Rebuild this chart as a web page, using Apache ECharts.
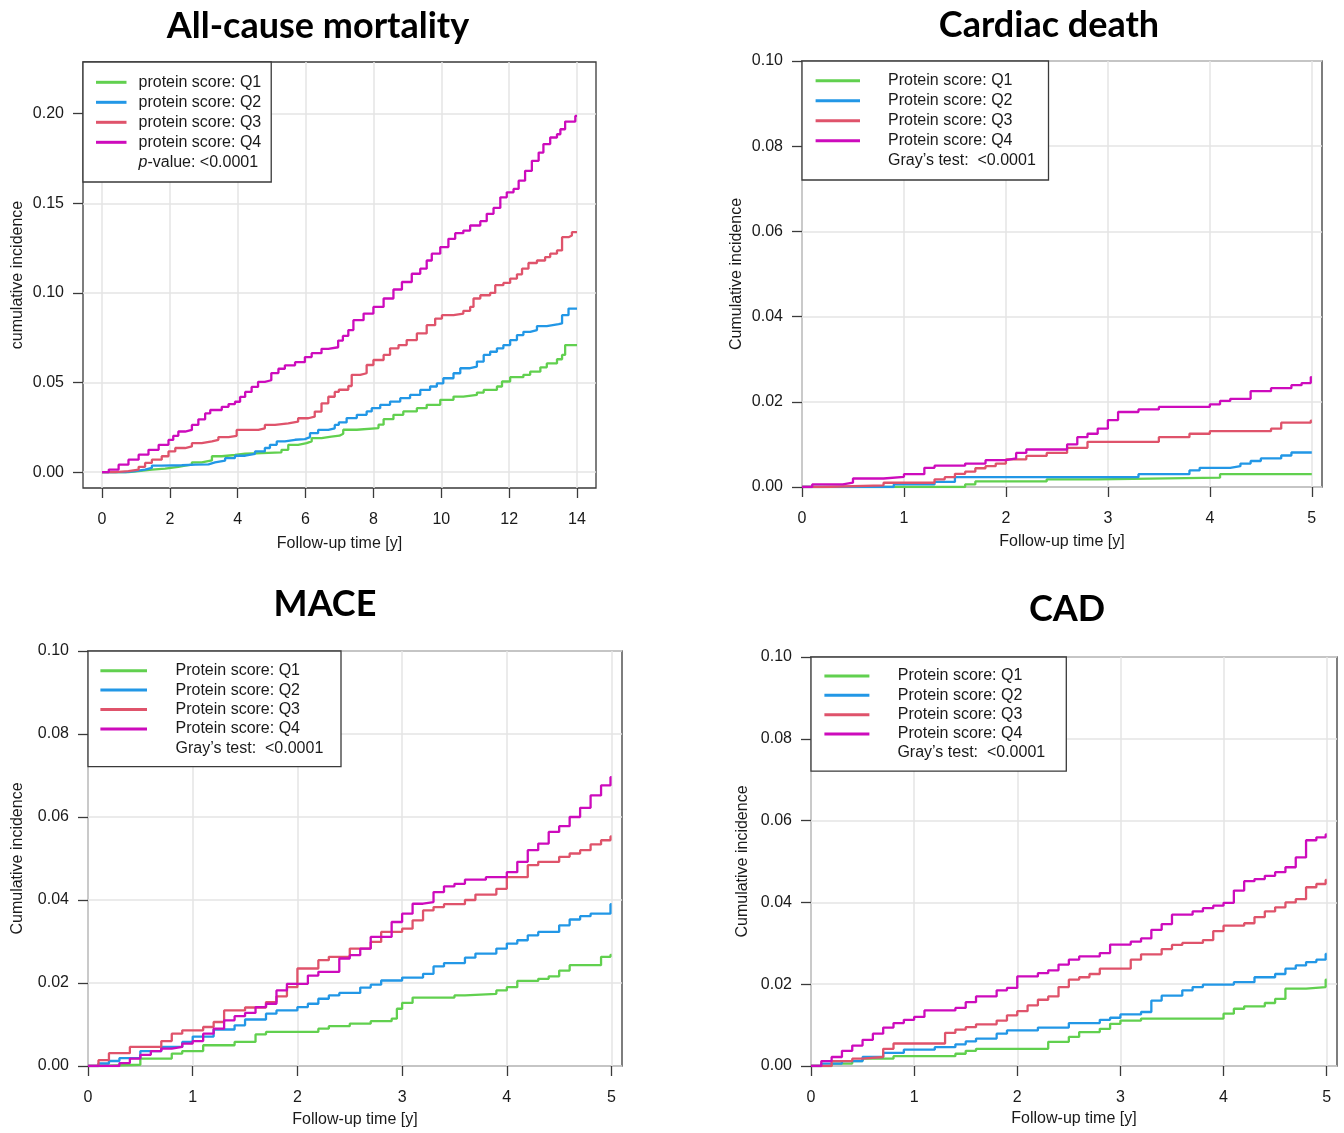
<!DOCTYPE html>
<html>
<head>
<meta charset="utf-8">
<title>Cumulative incidence by protein score</title>
<script src="https://cdn.jsdelivr.net/npm/echarts@6/dist/echarts.min.js"></script>
<style>
  html, body { margin: 0; padding: 0; background: #fff; }
  #chart { width: 1344px; height: 1133px; }
</style>
</head>
<body>
<div id="chart"></div>
<script>
// 数据：[随访时间(年), 累积发生率]
// All-cause mortality
const acmQ1 = [[0,0],[0.78,0.0006],[1.08,0.0015],[1.47,0.002],[1.86,0.003],[2.25,0.0037],[2.45,0.0042],[2.65,0.0055],[2.94,0.0066],[3.24,0.0089],[3.53,0.0096],[3.92,0.0103],[4.22,0.0107],[4.71,0.0111],[5.29,0.0125],[5.49,0.0153],[5.78,0.0162],[6.03,0.0172],[6.18,0.019],[6.47,0.0199],[6.76,0.0204],[7.0,0.0215],[7.11,0.0237],[7.51,0.0246],[8.15,0.0265],[8.3,0.0296],[8.59,0.032],[8.88,0.0339],[9.28,0.0357],[9.57,0.0376],[9.97,0.0404],[10.36,0.0422],[10.65,0.0431],[11.05,0.0444],[11.25,0.0459],[11.64,0.0478],[11.79,0.0506],[12.03,0.053],[12.42,0.0543],[12.62,0.0561],[12.92,0.0585],[13.11,0.0607],[13.41,0.063],[13.56,0.0654],[13.65,0.0709],[14,0.0709]];
const acmQ2 = [[0,0],[0.69,0.0006],[0.98,0.0015],[1.27,0.0024],[1.47,0.0037],[1.76,0.0039],[2.35,0.0042],[2.75,0.0044],[3.14,0.0055],[3.33,0.0065],[3.63,0.0079],[3.92,0.0092],[4.22,0.0103],[4.51,0.0116],[4.8,0.0135],[4.95,0.0153],[5.15,0.0172],[5.39,0.0181],[5.69,0.0185],[5.98,0.0196],[6.13,0.0218],[6.37,0.0236],[6.67,0.0245],[6.86,0.0264],[6.98,0.0278],[7.21,0.0302],[7.51,0.032],[7.8,0.0339],[7.95,0.0357],[8.2,0.0376],[8.49,0.0394],[8.79,0.0413],[9.08,0.0431],[9.38,0.0459],[9.67,0.0478],[9.87,0.0496],[10.06,0.0524],[10.36,0.0552],[10.56,0.058],[10.85,0.0589],[11.05,0.0617],[11.25,0.0654],[11.44,0.0672],[11.64,0.0691],[11.83,0.0709],[12.03,0.0737],[12.23,0.0765],[12.42,0.0783],[12.62,0.0793],[12.82,0.0815],[13.11,0.0826],[13.46,0.083],[13.56,0.0876],[13.75,0.0913],[14,0.0913]];
const acmQ3 = [[0,0],[0.39,0.0006],[0.78,0.0015],[1.08,0.003],[1.27,0.0052],[1.47,0.007],[1.76,0.0089],[1.96,0.0116],[2.16,0.0135],[2.45,0.0144],[2.65,0.0162],[2.94,0.0172],[3.24,0.0181],[3.43,0.0196],[3.73,0.0203],[3.97,0.0236],[4.61,0.0245],[4.8,0.0264],[5.1,0.0273],[5.49,0.0282],[5.78,0.0301],[6.08,0.031],[6.27,0.0338],[6.47,0.0384],[6.67,0.0421],[6.86,0.0448],[6.98,0.046],[7.26,0.0481],[7.36,0.0543],[7.61,0.0552],[7.8,0.0598],[8.0,0.0626],[8.3,0.0654],[8.49,0.0691],[8.74,0.0709],[8.98,0.0737],[9.28,0.0774],[9.57,0.082],[9.82,0.0857],[10.02,0.0876],[10.36,0.0885],[10.65,0.09],[10.85,0.0922],[10.95,0.0969],[11.15,0.0987],[11.44,0.1],[11.59,0.1043],[11.83,0.1056],[12.03,0.108],[12.23,0.1104],[12.38,0.1135],[12.57,0.1167],[12.82,0.1181],[13.06,0.12],[13.21,0.1219],[13.41,0.1237],[13.56,0.1311],[13.75,0.132],[13.85,0.1339],[14,0.1339]];
const acmQ4 = [[0,0],[0.2,0.0015],[0.49,0.0042],[0.78,0.007],[1.08,0.0098],[1.37,0.0125],[1.67,0.0153],[1.96,0.018],[2.1,0.0203],[2.25,0.0227],[2.45,0.0236],[2.65,0.0264],[2.84,0.0295],[3.04,0.0328],[3.19,0.0347],[3.53,0.0365],[3.73,0.038],[3.92,0.0393],[4.07,0.042],[4.22,0.0448],[4.41,0.0476],[4.6,0.0504],[4.8,0.0513],[4.99,0.0553],[5.2,0.0577],[5.39,0.0596],[5.69,0.0614],[5.98,0.0642],[6.18,0.0664],[6.47,0.0688],[6.67,0.0697],[6.96,0.0734],[7.1,0.076],[7.26,0.0793],[7.41,0.0848],[7.71,0.0885],[8.0,0.0922],[8.3,0.0969],[8.59,0.1019],[8.84,0.1061],[9.13,0.1107],[9.38,0.1135],[9.57,0.1181],[9.72,0.1219],[9.97,0.1256],[10.21,0.1302],[10.41,0.1333],[10.65,0.1348],[10.85,0.1376],[11.15,0.14],[11.34,0.1441],[11.54,0.1474],[11.74,0.1533],[11.93,0.1561],[12.13,0.158],[12.28,0.1626],[12.47,0.1681],[12.67,0.1737],[12.87,0.1783],[13.01,0.183],[13.21,0.1867],[13.41,0.1885],[13.51,0.1913],[13.65,0.1956],[13.95,0.1987],[14,0.1987]];

// Cardiac death
const cdQ1 = [[0,0],[1.6,0.0006],[1.7,0.0013],[2.4,0.0018],[2.9,0.0022],[4.1,0.003],[5,0.003]];
const cdQ2 = [[0,0],[0.9,0.0006],[1.3,0.0012],[1.5,0.0023],[3.3,0.003],[3.8,0.0039],[3.9,0.0045],[4.2,0.0049],[4.3,0.0055],[4.4,0.0061],[4.5,0.0067],[4.7,0.0074],[4.8,0.0081],[5,0.0081]];
const cdQ3 = [[0,0],[0.2,0.0004],[0.8,0.001],[1.3,0.0018],[1.4,0.0023],[1.5,0.0031],[1.6,0.0036],[1.7,0.0044],[1.8,0.0049],[1.9,0.0055],[2.0,0.0065],[2.2,0.0073],[2.4,0.008],[2.6,0.0092],[2.8,0.0106],[3.5,0.0117],[3.8,0.0125],[4.0,0.0131],[4.6,0.0137],[4.7,0.0151],[4.99,0.0156],[5,0.0156]];
const cdQ4 = [[0,0],[0.1,0.0006],[0.4,0.001],[0.5,0.002],[0.8,0.0024],[1.0,0.003],[1.2,0.0045],[1.3,0.005],[1.6,0.0055],[1.8,0.0063],[2.0,0.0067],[2.1,0.008],[2.2,0.0088],[2.6,0.01],[2.7,0.0117],[2.8,0.0125],[2.9,0.0137],[3.0,0.0157],[3.1,0.0176],[3.3,0.0182],[3.5,0.0188],[4.0,0.0194],[4.1,0.0202],[4.2,0.0207],[4.4,0.0225],[4.6,0.0232],[4.8,0.0239],[4.9,0.0244],[4.99,0.0258],[5,0.0258]];

// MACE
const maceQ1 = [[0,0],[0.1,0.0003],[0.5,0.0018],[0.8,0.003],[0.9,0.0036],[1.1,0.005],[1.4,0.0058],[1.6,0.0076],[1.7,0.0082],[2.2,0.009],[2.3,0.0096],[2.5,0.0102],[2.7,0.0108],[2.9,0.0114],[2.95,0.0138],[3.0,0.0152],[3.1,0.0165],[3.5,0.017],[3.6,0.0174],[3.9,0.0182],[4.0,0.019],[4.1,0.0205],[4.3,0.021],[4.4,0.0216],[4.5,0.023],[4.6,0.0243],[4.9,0.0263],[4.99,0.0268],[5,0.0268]];
const maceQ2 = [[0,0],[0.1,0.0006],[0.2,0.0012],[0.3,0.0019],[0.5,0.0036],[0.7,0.0046],[0.9,0.0058],[1.0,0.0071],[1.2,0.0088],[1.4,0.0098],[1.5,0.0112],[1.7,0.0126],[1.8,0.0134],[2.0,0.0142],[2.1,0.015],[2.2,0.0162],[2.3,0.017],[2.4,0.0176],[2.6,0.0189],[2.7,0.0196],[2.8,0.0206],[3.0,0.0213],[3.2,0.0222],[3.3,0.024],[3.4,0.0248],[3.6,0.0261],[3.7,0.0271],[3.9,0.0283],[4.0,0.0295],[4.1,0.0303],[4.2,0.0315],[4.3,0.0323],[4.5,0.0339],[4.6,0.0353],[4.7,0.0361],[4.8,0.0367],[4.99,0.039],[5,0.039]];
const maceQ3 = [[0,0],[0.1,0.0014],[0.2,0.0031],[0.4,0.0046],[0.7,0.006],[0.8,0.0078],[0.9,0.0086],[1.1,0.0094],[1.2,0.0106],[1.3,0.0134],[1.5,0.0141],[1.7,0.0154],[1.8,0.0168],[1.9,0.019],[2.0,0.0235],[2.2,0.0255],[2.3,0.0263],[2.5,0.0283],[2.7,0.0299],[2.8,0.0323],[3.0,0.0331],[3.1,0.0351],[3.2,0.0375],[3.3,0.0383],[3.4,0.039],[3.6,0.04],[3.7,0.0413],[3.9,0.0427],[4.0,0.0455],[4.2,0.0484],[4.3,0.0492],[4.5,0.0504],[4.6,0.0512],[4.7,0.052],[4.8,0.0534],[4.9,0.0544],[4.99,0.0553],[5,0.0553]];
const maceQ4 = [[0,0],[0.3,0.0007],[0.4,0.0018],[0.5,0.0027],[0.6,0.0036],[0.7,0.0042],[0.8,0.0046],[0.9,0.0054],[1.0,0.006],[1.1,0.0078],[1.2,0.009],[1.3,0.011],[1.4,0.012],[1.5,0.0128],[1.6,0.0142],[1.7,0.015],[1.8,0.0182],[1.9,0.0198],[2.1,0.0218],[2.2,0.0227],[2.4,0.0259],[2.5,0.0267],[2.6,0.0283],[2.7,0.0311],[2.9,0.0347],[3.0,0.0367],[3.1,0.0391],[3.2,0.0395],[3.3,0.0419],[3.4,0.0433],[3.5,0.0439],[3.6,0.0449],[3.8,0.0455],[4.0,0.0467],[4.1,0.0492],[4.2,0.052],[4.3,0.0536],[4.4,0.0564],[4.5,0.0578],[4.6,0.06],[4.7,0.0622],[4.8,0.0652],[4.9,0.0676],[4.99,0.0696],[5,0.0696]];

// CAD
const cadQ1 = [[0,0],[0.2,0.0006],[0.4,0.0012],[0.5,0.0018],[0.8,0.0024],[1.4,0.003],[1.5,0.0037],[1.6,0.0042],[2.3,0.0059],[2.5,0.0071],[2.6,0.0083],[2.8,0.0091],[2.9,0.0103],[3.0,0.0111],[3.2,0.0116],[4.0,0.0128],[4.1,0.014],[4.2,0.0146],[4.4,0.0154],[4.5,0.0164],[4.6,0.0189],[4.8,0.0193],[4.99,0.0211],[5,0.0211]];
const cadQ2 = [[0,0],[0.1,0.0006],[0.3,0.0012],[0.5,0.0022],[0.7,0.0032],[0.9,0.004],[1.2,0.0046],[1.4,0.0053],[1.5,0.006],[1.6,0.0067],[1.8,0.0079],[1.9,0.0087],[2.2,0.0094],[2.5,0.0105],[2.8,0.0113],[2.9,0.0118],[3.0,0.0126],[3.2,0.0132],[3.3,0.016],[3.4,0.0172],[3.6,0.0185],[3.7,0.0193],[3.8,0.0199],[4.1,0.0205],[4.3,0.0217],[4.5,0.0225],[4.6,0.0238],[4.7,0.0246],[4.8,0.0254],[4.9,0.026],[4.99,0.0274],[5,0.0274]];
const cadQ3 = [[0,0],[0.2,0.0012],[0.4,0.0018],[0.5,0.0022],[0.7,0.0042],[0.8,0.0055],[1.3,0.0081],[1.4,0.0089],[1.5,0.0095],[1.6,0.0102],[1.8,0.0111],[1.9,0.0124],[2.0,0.0134],[2.1,0.0148],[2.2,0.0162],[2.3,0.017],[2.4,0.0193],[2.5,0.0211],[2.6,0.0217],[2.7,0.0225],[2.8,0.0238],[3.1,0.026],[3.2,0.0273],[3.4,0.0286],[3.5,0.0296],[3.6,0.0301],[3.8,0.0308],[3.9,0.033],[4.0,0.0343],[4.2,0.0349],[4.3,0.0364],[4.4,0.0378],[4.5,0.0388],[4.6,0.04],[4.7,0.0408],[4.8,0.0437],[4.9,0.0445],[4.99,0.0455],[5,0.0455]];
const cadQ4 = [[0,0],[0.1,0.0012],[0.2,0.0022],[0.3,0.0037],[0.4,0.005],[0.5,0.0064],[0.6,0.0079],[0.7,0.0094],[0.8,0.0105],[0.9,0.0113],[1.0,0.012],[1.1,0.0136],[1.4,0.0142],[1.5,0.0156],[1.6,0.017],[1.8,0.0185],[1.9,0.0191],[2.0,0.0219],[2.2,0.0227],[2.3,0.0234],[2.4,0.0248],[2.5,0.026],[2.6,0.0268],[2.8,0.0276],[2.9,0.0297],[3.1,0.0304],[3.2,0.0312],[3.3,0.0333],[3.4,0.0347],[3.5,0.037],[3.7,0.0378],[3.8,0.0386],[3.9,0.0392],[4.0,0.0399],[4.1,0.0429],[4.2,0.0452],[4.3,0.0457],[4.4,0.0465],[4.5,0.0474],[4.6,0.0486],[4.7,0.051],[4.8,0.0552],[4.9,0.0559],[4.99,0.0566],[5,0.0566]];

// 刻度
const ticks14 = [0, 2, 4, 6, 8, 10, 12, 14];
const ticks5 = [0, 1, 2, 3, 4, 5];
const yTicks20 = [0, 0.05, 0.10, 0.15, 0.20];
const yTicks10 = [0, 0.02, 0.04, 0.06, 0.08, 0.10];

const namesLower = ['protein score: Q1', 'protein score: Q2', 'protein score: Q3', 'protein score: Q4'];
const namesUpper = ['Protein score: Q1', 'Protein score: Q2', 'Protein score: Q3', 'Protein score: Q4'];
const colors = ['#61D04F', '#2297E6', '#DF536B', '#CD0BBC'];

const FONT = "'Liberation Sans', Arial, sans-serif";
const TXT = '#1a1a1a';
const BOX = '#3a3a3a';

function makeX(gi, min, max, ticks, nameGap) {
  return {
    type: 'value', gridIndex: gi, min: min, max: max,
    name: 'Follow-up time [y]', nameLocation: 'middle', nameGap: nameGap,
    nameTextStyle: { fontSize: 16, color: TXT, fontFamily: FONT },
    axisLine: { show: false, onZero: false },
    axisTick: { show: true, length: 10, customValues: ticks, lineStyle: { color: BOX, width: 1.3 } },
    axisLabel: { customValues: ticks, margin: 24, fontSize: 16, color: TXT, fontFamily: FONT },
    splitLine: { show: true, lineStyle: { color: '#e4e4e4', width: 1.5 } }
  };
}

function makeY(gi, min, max, ticks, name, nameGap) {
  return {
    type: 'value', gridIndex: gi, min: min, max: max,
    name: name, nameLocation: 'middle', nameGap: nameGap,
    nameTextStyle: { fontSize: 16, color: TXT, fontFamily: FONT },
    axisLine: { show: false, onZero: false },
    axisTick: { show: true, length: 10, customValues: ticks, lineStyle: { color: BOX, width: 1.3 } },
    axisLabel: {
      customValues: ticks, margin: 19, fontSize: 16, color: TXT, fontFamily: FONT,
      formatter: function (v) { return v.toFixed(2); }
    },
    splitLine: { show: true, lineStyle: { color: '#e4e4e4', width: 1.5 } }
  };
}

function makeLegend(names, left, top, padding, iconW, lineH, textGap) {
  return {
    data: names, orient: 'vertical', left: left, top: top, padding: padding,
    itemWidth: iconW, itemHeight: 3, itemGap: 0, icon: 'rect', selectedMode: false,
    itemStyle: { borderWidth: 0 },
    textStyle: { fontSize: 16, color: TXT, fontFamily: FONT, lineHeight: lineH, padding: [0, 0, 0, textGap] },
    backgroundColor: '#fff', borderColor: BOX, borderWidth: 1.3, borderRadius: 0
  };
}

function stepLine(name, data, gi, color) {
  return {
    type: 'line', name: name, data: data, xAxisIndex: gi, yAxisIndex: gi,
    step: 'end', showSymbol: false, symbol: 'none',
    lineStyle: { width: 2.3, color: color }, itemStyle: { color: color }
  };
}

function panelSeries(names, sets, gi) {
  return sets.map(function (d, k) { return stepLine(names[k], d, gi, colors[k]); });
}

function titleText(text, x, y) {
  return {
    type: 'text', x: x, y: y, z: 10,
    style: { text: text, fontSize: 36, fontWeight: 'bold', fontFamily: "Lato, 'Liberation Sans', sans-serif", fill: '#000', align: 'center', verticalAlign: 'middle' }
  };
}

function noteText(text, x, y) {
  return {
    type: 'text', x: x, y: y, z: 10,
    style: {
      text: text, fontSize: 16, fontFamily: FONT, fill: TXT, verticalAlign: 'middle',
      rich: { i: { fontStyle: 'italic', fontSize: 16, fontFamily: FONT, fill: TXT } }
    }
  };
}

const option = {
  animation: false,
  backgroundColor: '#fff',
  grid: [
    { left: 83, top: 62, width: 513, height: 426, show: true, borderColor: BOX, borderWidth: 1.3 },
    { left: 802, top: 61, width: 520, height: 426, show: true, borderColor: BOX, borderWidth: 1.3 },
    { left: 88, top: 651, width: 534, height: 415, show: true, borderColor: BOX, borderWidth: 1.3 },
    { left: 811, top: 657, width: 526, height: 409, show: true, borderColor: BOX, borderWidth: 1.3 }
  ],
  xAxis: [
    makeX(0, -0.56, 14.56, ticks14, 48),
    makeX(1, 0, 5.1, ticks5, 47),
    makeX(2, 0, 5.1, ticks5, 46),
    makeX(3, 0, 5.1, ticks5, 45)
  ],
  yAxis: [
    makeY(0, -0.0088, 0.2288, yTicks20, 'cumulative incidence', 57),
    makeY(1, 0, 0.1, yTicks10, 'Cumulative incidence', 57),
    makeY(2, 0, 0.1, yTicks10, 'Cumulative incidence', 62),
    makeY(3, 0, 0.1, yTicks10, 'Cumulative incidence', 60)
  ],
  legend: [
    makeLegend(namesLower, 83, 62, [10.3, 10, 29.7, 13], 30.5, 20, 7),
    makeLegend(namesUpper, 802, 61, [9.7, 36, 29.3, 13.6], 44.4, 20, 23),
    makeLegend(namesUpper, 88, 651, [10, 41, 28, 12.4], 46.6, 19.4, 23.5),
    makeLegend(namesUpper, 811, 657, [9.4, 44, 27.5, 13.4], 45, 19.3, 23.4)
  ],
  graphic: [
    titleText('All-cause mortality', 318, 26),
    titleText('Cardiac death', 1049, 25),
    titleText('MACE', 325, 604),
    titleText('CAD', 1067, 609),
    noteText('{i|p}-value: <0.0001', 138.5, 162.3),
    noteText('Gray\u2019s test:  <0.0001', 888, 160.7),
    noteText('Gray\u2019s test:  <0.0001', 175.5, 748.3),
    noteText('Gray\u2019s test:  <0.0001', 897.4, 753)
  ],
  series: [].concat(
    panelSeries(namesLower, [acmQ1, acmQ2, acmQ3, acmQ4], 0),
    panelSeries(namesUpper, [cdQ1, cdQ2, cdQ3, cdQ4], 1),
    panelSeries(namesUpper, [maceQ1, maceQ2, maceQ3, maceQ4], 2),
    panelSeries(namesUpper, [cadQ1, cadQ2, cadQ3, cadQ4], 3)
  )
};

const chart = echarts.init(document.getElementById('chart'));
chart.setOption(option);
window.onresize = chart.resize;
</script>
</body>
</html>
